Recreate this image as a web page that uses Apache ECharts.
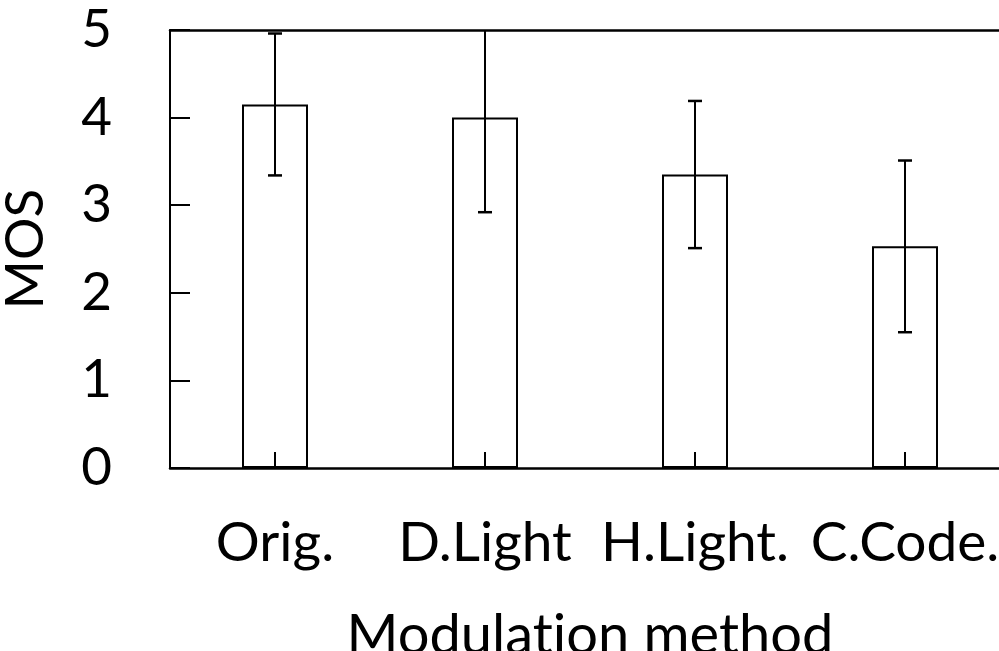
<!DOCTYPE html>
<html>
<head>
<meta charset="utf-8">
<script src="https://cdn.jsdelivr.net/npm/echarts@6/dist/echarts.min.js"></script>
<style>
  html, body { margin: 0; padding: 0; background: #fff; }
  #chart { width: 999px; height: 651px; }
</style>
</head>
<body>
<div id="chart"></div>
<script>
// Mean opinion score per modulation method, with error half-widths
const categories = ['Orig.', 'D.Light', 'H.Light.', 'C.Code.'];
const mosMean = [4.15, 4.0, 3.35, 2.53];
const mosError = [0.81, 1.08, 0.84, 0.98];
const yTicks = [0, 1, 2, 3, 4, 5];

const FONT = 'Lato';
const chart = echarts.init(document.getElementById('chart'), null, { renderer: 'canvas' });

const errorData = categories.map((c, i) => [i, mosMean[i] - mosError[i], mosMean[i] + mosError[i]]);

chart.setOption({
  animation: false,
  backgroundColor: '#ffffff',
  grid: {
    left: 170, top: 30, right: -11, bottom: 183,
    containLabel: false,
    outerBoundsMode: 'none',
    show: false
  },
  xAxis: [
    {
      type: 'category',
      data: categories,
      position: 'bottom',
      name: '{t|Modulat}{t|ion method}',
      nameLocation: 'middle',
      nameGap: 140,
      nameTextStyle: {
        fontFamily: FONT, fontSize: 56, color: '#000',
        rich: { t: { fontFamily: FONT, fontSize: 56, color: '#000' } }
      },
      z: 5,
      axisLine: { onZero: false, lineStyle: { color: '#000', width: 2.5 } },
      axisTick: { show: true, inside: true, length: 16, alignWithLabel: true, lineStyle: { color: '#000', width: 2 } },
      axisLabel: { interval: 0, margin: 48, fontFamily: FONT, fontSize: 55, color: '#000' },
      splitLine: { show: false }
    },
    {
      // plain frame line along the top of the plot
      type: 'category',
      data: categories,
      position: 'top',
      z: 5,
      axisLine: { show: true, onZero: false, lineStyle: { color: '#000', width: 2.5 } },
      axisTick: { show: false },
      axisLabel: { show: false },
      splitLine: { show: false }
    }
  ],
  yAxis: [
    {
      type: 'value',
      position: 'left',
      min: yTicks[0],
      max: yTicks[yTicks.length - 1],
      interval: 1,
      name: 'MOS',
      nameLocation: 'middle',
      nameGap: 118,
      nameRotate: 90,
      nameTextStyle: { fontFamily: FONT, fontSize: 53, color: '#000' },
      z: 6,
      axisLine: { show: true, onZero: false, lineStyle: { color: '#000', width: 2 } },
      axisTick: { show: false },
      axisLabel: { margin: 58, fontFamily: FONT, fontSize: 53, color: '#000' },
      splitLine: { show: false }
    },
    {
      // companion axis, shifted 20px into the plot, carrying the inward tick marks
      type: 'value',
      position: 'left',
      offset: -20,
      min: yTicks[0],
      max: yTicks[yTicks.length - 1],
      interval: 1,
      z: 6,
      axisLine: { show: false, onZero: false },
      axisTick: { show: true, inside: false, length: 20, lineStyle: { color: '#000', width: 2 } },
      axisLabel: { show: false },
      splitLine: { show: false }
    }
  ],
  series: [
    {
      type: 'bar',
      data: mosMean,
      barWidth: 66,
      itemStyle: { color: '#fff', borderColor: '#000', borderWidth: 2 },
      z: 2
    },
    {
      type: 'custom',
      data: errorData,
      clip: true,
      z: 3,
      renderItem: function (params, api) {
        const x = api.value(0);
        const lo = api.coord([x, api.value(1)]);
        const hi = api.coord([x, api.value(2)]);
        const capHalf = 7;
        return {
          type: 'group',
          children: [
            { type: 'line', shape: { x1: lo[0], y1: lo[1], x2: hi[0], y2: hi[1] }, style: { stroke: '#000', lineWidth: 2 } },
            { type: 'line', shape: { x1: lo[0] - capHalf, y1: lo[1], x2: lo[0] + capHalf, y2: lo[1] }, style: { stroke: '#000', lineWidth: 2.5 } },
            { type: 'line', shape: { x1: hi[0] - capHalf, y1: hi[1], x2: hi[0] + capHalf, y2: hi[1] }, style: { stroke: '#000', lineWidth: 2.5 } }
          ]
        };
      }
    }
  ]
});
</script>
</body>
</html>
